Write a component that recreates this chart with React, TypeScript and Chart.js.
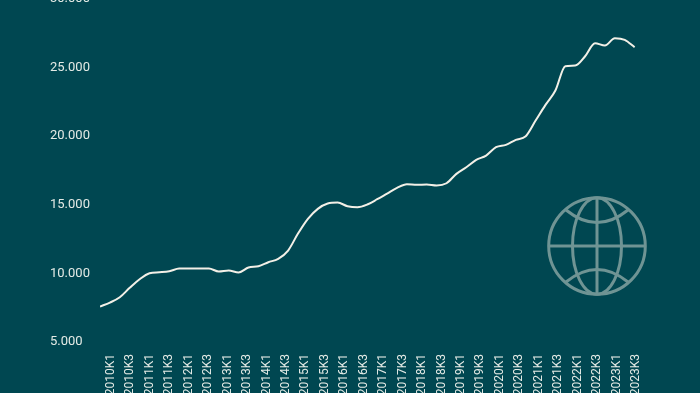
import React, { useEffect, useRef } from "react";
import { Chart, registerables } from "chart.js";

Chart.register(...registerables);

const quarterLabels = [
  "2010K1", "2010K3", "2011K1", "2011K3", "2012K1", "2012K3", "2013K1", "2013K3",
  "2014K1", "2014K3", "2015K1", "2015K3", "2016K1", "2016K3", "2017K1", "2017K3",
  "2018K1", "2018K3", "2019K1", "2019K3", "2020K1", "2020K3", "2021K1", "2021K3",
  "2022K1", "2022K3", "2023K1", "2023K3",
];

const seriesValues = [
  7585, 7876, 8262, 8948, 9574, 10012, 10085, 10157, 10354, 10360, 10360, 10355,
  10136, 10208, 10063, 10427, 10522, 10813, 11061, 11666, 12905, 13977, 14705, 15090,
  15160, 14895, 14822, 15019, 15405, 15821, 16236, 16498, 16455, 16477, 16404, 16571,
  17256, 17738, 18277, 18590, 19195, 19370, 19735, 19997, 21141, 22286, 23328, 25099,
  25150, 25828, 26775, 26608, 27140, 27023, 26484,
];

const yTicks = [5000, 10000, 15000, 20000, 25000, 30000];

const BG = "#004751";
const TEXT = "#e4ebe6";

export default function App() {
  const ref = useRef<HTMLCanvasElement | null>(null);

  useEffect(() => {
    document.body.style.margin = "0";
    document.body.style.overflow = "hidden";
    document.body.style.background = BG;
    const chart = new Chart(ref.current as HTMLCanvasElement, {
      type: "line",
      data: {
        datasets: [
          {
            data: seriesValues.map((v, i) => ({ x: i, y: v })),
            xAxisID: "xLine",
            yAxisID: "y",
            borderColor: "#f3f0e7",
            borderWidth: 2,
            pointRadius: 0,
            cubicInterpolationMode: "monotone",
            fill: false,
          },
        ],
      },
      options: {
        animation: false,
        responsive: false,
        events: [],
        layout: { padding: { left: 50, right: 64, top: 29, bottom: 0 } },
        plugins: { legend: { display: false }, tooltip: { enabled: false }, title: { display: false } },
        scales: {
          xLine: { type: "linear", display: false, min: 0, max: 54.14 },
          xLabels: {
            type: "linear",
            position: "bottom",
            min: -0.566,
            max: 27,
            afterBuildTicks: (axis: any) => {
              axis.ticks = quarterLabels.map((_, i) => ({ value: i }));
            },
            afterFit: (axis: any) => {
              axis.height = 88;
            },
            grid: { display: false, drawTicks: false },
            border: { display: false },
            ticks: {
              autoSkip: false,
              minRotation: 90,
              maxRotation: 90,
              padding: 12,
              color: TEXT,
              font: { family: "Roboto", size: 12 },
              callback: (v: any) => quarterLabels[Number(v)],
            },
          },
          y: {
            type: "linear",
            min: 5000,
            max: 30000,
            afterBuildTicks: (axis: any) => {
              axis.ticks = yTicks.map((value) => ({ value }));
            },
            afterFit: (axis: any) => {
              axis.width = 50;
            },
            grid: { display: false, drawTicks: false },
            border: { display: false },
            ticks: {
              crossAlign: "far",
              color: TEXT,
              font: { family: "Roboto", size: 13 },
              callback: (v: any) => Number(v).toLocaleString("de-DE"),
            },
          },
        },
      },
    } as any);
    return () => chart.destroy();
  }, []);

  return (
    <div style={{ position: "fixed", left: 0, top: 0, width: 700, height: 393, overflow: "hidden", background: BG }}>
      <canvas ref={ref} width={700} height={460} style={{ position: "absolute", left: 0, top: -30, width: 700, height: 460 }} />
      <svg width={110} height={110} viewBox="-55 -55 110 110" style={{ position: "absolute", left: 541.7, top: 191 }} fill="none" stroke="#6f9494" strokeWidth={3}>
        <circle cx={0} cy={0} r={48.3} />
        <ellipse cx={0} cy={0} rx={24.5} ry={48.3} />
        <line x1={0} y1={-48} x2={0} y2={48} />
        <line x1={-48} y1={0} x2={48} y2={0} />
        <path d="M -31 -36 Q 0 -11 31 -36" />
        <path d="M -31 36 Q 0 11 31 36" />
      </svg>
    </div>
  );
}
